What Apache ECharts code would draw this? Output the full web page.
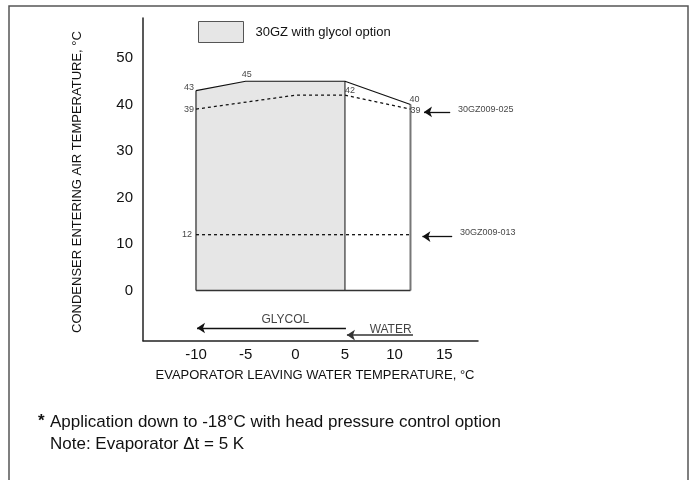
<!DOCTYPE html>
<html>
<head>
<meta charset="utf-8">
<script src="https://cdn.jsdelivr.net/npm/echarts@6/dist/echarts.min.js"></script>
<style>
html,body{margin:0;padding:0;background:#fff;}
#main{width:696px;height:480px;}
</style>
</head>
<body>
<div id="main"></div>
<script>
// ---- data ----
const xTicks = [-10, -5, 0, 5, 10, 15];
const yTicks = [0, 10, 20, 30, 40, 50];
const glycolArea = [[-10, 0], [-10, 43], [-5, 45], [5, 45], [5, 0]];
const upperLimit = [[-10, 43], [-5, 45], [5, 45], [11.6, 40]];
const leftEdge = [[-10, 0], [-10, 43]];
const rightEdge = [[11.6, 40], [11.6, 0]];
const bottomEdge = [[-10, 0], [11.6, 0]];
const dividerEdge = [[5, 45], [5, 0]];
const limit025 = [[-10, 39], [0, 42], [5, 42], [11.6, 39]];
const limit013 = [[-10, 12], [11.6, 12]];
const pointLabels = [
  { xy: [-10, 43], text: '43', pos: 'left', off: [0, -3] },
  { xy: [-5, 45], text: '45', pos: 'top', off: [1, 0] },
  { xy: [5, 42], text: '42', pos: 'right', off: [-2, -5] },
  { xy: [11.6, 40], text: '40', pos: 'right', off: [-3, -5] },
  { xy: [-10, 39], text: '39', pos: 'left', off: [0, 0] },
  { xy: [11.6, 39], text: '39', pos: 'right', off: [-2, 1] },
  { xy: [-10, 12], text: '12', pos: 'left', off: [-2, 0] }
];
const arrow025 = [[15.6, 38.4], [12.96, 38.4]];
const arrow013 = [[15.8, 11.6], [12.8, 11.6]];
const glycolArrow = [[5.1, -8.06], [-9.9, -8.06]];
const waterArrow = [[11.85, -9.6], [5.2, -9.6]];
const annotations = [
  { xy: [16.38, 39.0], text: '30GZ009-025', pos: 'right', size: 9 },
  { xy: [16.58, 12.4], text: '30GZ009-013', pos: 'right', size: 9 },
  { xy: [-1.0, -6.3], text: 'GLYCOL', pos: 'inside', size: 12 },
  { xy: [9.6, -8.4], text: 'WATER', pos: 'inside', size: 12 }
];
const legendName = '30GZ with glycol option';
const xTitle = 'EVAPORATOR LEAVING WATER TEMPERATURE, °C';
const yTitle = 'CONDENSER ENTERING AIR TEMPERATURE, °C';
const note1 = 'Application down to -18°C with head pressure control option';
const note2 = 'Note: Evaporator Δt = 5 K';

// ---- chart ----
const FONT = 'Liberation Sans, Arial, Helvetica, sans-serif';
const chart = echarts.init(document.getElementById('main'), null, { renderer: 'canvas' });

function lineSeries(data, color, width, type) {
  return {
    type: 'line', data: data, symbol: 'none', silent: true, z: 3,
    lineStyle: { color: color, width: width, type: type || 'solid' },
    animation: false
  };
}

const option = {
  animation: false,
  backgroundColor: '#fff',
  textStyle: { fontFamily: FONT },
  legend: {
    data: [legendName], left: 198, top: 21, padding: 0,
    itemWidth: 45, itemHeight: 21, icon: 'rect', selectedMode: false,
    itemStyle: { color: '#e6e6e6', borderColor: '#555', borderWidth: 1 },
    textStyle: { fontSize: 13, color: '#111', fontFamily: FONT, padding: [0, 0, 0, 7] }
  },
  grid: { left: 143, right: 218, top: 18, bottom: 139.3 },
  xAxis: {
    type: 'value', min: -15.34, max: 18.4,
    axisLine: { show: true, onZero: false, lineStyle: { color: '#222', width: 1.5 } },
    axisTick: { show: false }, splitLine: { show: false },
    axisLabel: { customValues: xTicks, fontSize: 15, color: '#111', margin: 7, fontFamily: FONT }
  },
  yAxis: {
    type: 'value', min: -10.8, max: 58.6,
    axisLine: { show: true, onZero: false, lineStyle: { color: '#222', width: 1.5 } },
    axisTick: { show: false }, splitLine: { show: false },
    axisLabel: { customValues: yTicks, fontSize: 15, color: '#111', margin: 10, fontFamily: FONT }
  },
  series: [
    {
      name: legendName, type: 'custom', data: [[0, 0]], z: 1, silent: true,
      itemStyle: { color: '#e6e6e6' },
      renderItem: function (params, api) {
        return {
          type: 'polygon',
          shape: { points: glycolArea.map(p => api.coord(p)) },
          style: { fill: '#e6e6e6', stroke: null }
        };
      }
    },
    lineSeries(leftEdge, '#777', 2),
    lineSeries(rightEdge, '#777', 2),
    lineSeries(bottomEdge, '#333', 1.5),
    lineSeries(dividerEdge, '#333', 1.2),
    lineSeries(upperLimit, '#111', 1.2),
    lineSeries(limit025, '#111', 1.3, [3, 3]),
    lineSeries(limit013, '#111', 1.3, [3, 3]),
    {
      type: 'scatter', symbolSize: 0, silent: true, z: 5,
      data: pointLabels.map(d => ({
        value: d.xy,
        label: { show: true, formatter: d.text, position: d.pos, distance: 2, offset: d.off,
          fontSize: 9, color: '#111', fontFamily: FONT }
      })).concat(annotations.map(d => ({
        value: d.xy,
        label: { show: true, formatter: d.text, position: d.pos, distance: 0,
          fontSize: d.size, color: '#111', fontFamily: FONT }
      }))),
      markLine: {
        silent: true, symbol: ['none', 'arrow'], symbolSize: 8, animation: false,
        label: { show: false },
        lineStyle: { type: 'solid', color: '#111', width: 1.3 },
        data: [
          [{ coord: arrow025[0] }, { coord: arrow025[1] }],
          [{ coord: arrow013[0] }, { coord: arrow013[1] }],
          [{ coord: glycolArrow[0] }, { coord: glycolArrow[1] }],
          [{ coord: waterArrow[0] }, { coord: waterArrow[1], lineStyle: { color: '#333', width: 1.6 } }]
        ]
      }
    }
  ],
  graphic: [
    { type: 'rect', shape: { x: 9, y: 6, width: 679, height: 520 }, silent: true,
      style: { fill: null, stroke: '#555', lineWidth: 1.5 } },
    { type: 'text', x: 315, y: 375, silent: true,
      style: { text: xTitle, fontSize: 13, fontFamily: FONT, fill: '#111', align: 'center', verticalAlign: 'middle' } },
    { type: 'text', x: 77, y: 182, rotation: Math.PI / 2, silent: true,
      style: { text: yTitle, fontSize: 13, fontFamily: FONT, fill: '#111', align: 'center', verticalAlign: 'middle' } },
    { type: 'text', x: 38, y: 421, silent: true,
      style: { text: '*', fontSize: 17, fontWeight: 'bold', fontFamily: FONT, fill: '#111', align: 'left', verticalAlign: 'middle' } },
    { type: 'text', x: 50, y: 422, silent: true,
      style: { text: note1, fontSize: 17, fontFamily: FONT, fill: '#111', align: 'left', verticalAlign: 'middle' } },
    { type: 'text', x: 50, y: 444, silent: true,
      style: { text: note2, fontSize: 17, fontFamily: FONT, fill: '#111', align: 'left', verticalAlign: 'middle' } }
  ]
};
chart.setOption(option);
</script>
</body>
</html>
